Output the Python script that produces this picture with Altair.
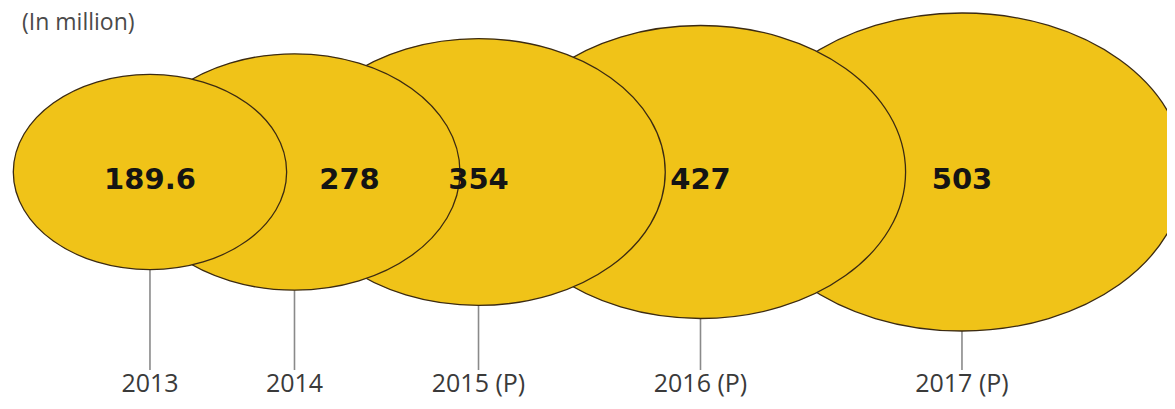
import altair as alt
import pandas as pd

# ---- data ----
years = ["2013", "2014", "2015 (P)", "2016 (P)", "2017 (P)"]
values = [189.6, 278, 354, 427, 503]
value_labels = ["189.6", "278", "354", "427", "503"]
subtitle = "(In million)"

df = pd.DataFrame({
    "idx": list(range(len(years))),
    "year": years,
    "value": values,
    "label": value_labels,
})

W, H = 1159, 393
CY = 164

fill_col = "#F0C318"
stroke_col = "#3b2a12"

# ellipse symbol (horizontally stretched circle, as in the reference)
ellipse = "M -1.4 0 A 1.4 1 0 1 0 1.4 0 A 1.4 1 0 1 0 -1.4 0 Z"

base = alt.Chart(df).transform_window(
    cum="sum(value)", frame=[None, 0], sort=[alt.SortField("idx")]
)

xenc = alt.X("cum:Q", scale=alt.Scale(domain=[-83.5, 2146], nice=False, zero=False), axis=None)

rules = base.mark_rule(color="#8a8a8a", strokeWidth=1.6).encode(
    x=xenc,
    y=alt.value(CY),
    y2=alt.value(362),
)

bubbles = base.mark_point(
    shape=ellipse, filled=True, fill=fill_col, stroke=stroke_col,
    strokeWidth=1.3, opacity=1, fillOpacity=1, strokeOpacity=1,
).encode(
    x=xenc,
    y=alt.value(CY),
    size=alt.Size("value:Q", scale=alt.Scale(zero=True, nice=False, range=[0, 101124]), legend=None),
    order=alt.Order("idx:Q", sort="descending"),
)

num_style = dict(font="DejaVu Sans", fontWeight="bold", fontSize=29, color="#141414",
                 baseline="middle", align="center")

nums_main = base.transform_filter("datum.idx != 1").mark_text(**num_style).encode(
    x=xenc, y=alt.value(CY + 8), text="label:N"
)
nums_shift = base.transform_filter("datum.idx == 1").mark_text(dx=55, **num_style).encode(
    x=xenc, y=alt.value(CY + 8), text="label:N"
)

years_txt = base.mark_text(
    font="Open Sans", fontSize=25, color="#3a3a3a", baseline="alphabetic", align="center"
).encode(x=xenc, y=alt.value(384), text="year:N")

title_txt = alt.Chart(pd.DataFrame({"t": [subtitle]})).mark_text(
    font="Open Sans", fontSize=23, color="#4a4a4a", align="left", baseline="alphabetic"
).encode(x=alt.value(14), y=alt.value(22), text="t:N")

chart = alt.layer(rules, bubbles, nums_main, nums_shift, years_txt, title_txt).properties(
    width=W, height=H, padding=0, autosize=alt.AutoSizeParams(type="none"),
    background="white",
).configure_view(strokeWidth=0)

chart.save("out.html", embed_options={"renderer": "svg", "actions": False})
